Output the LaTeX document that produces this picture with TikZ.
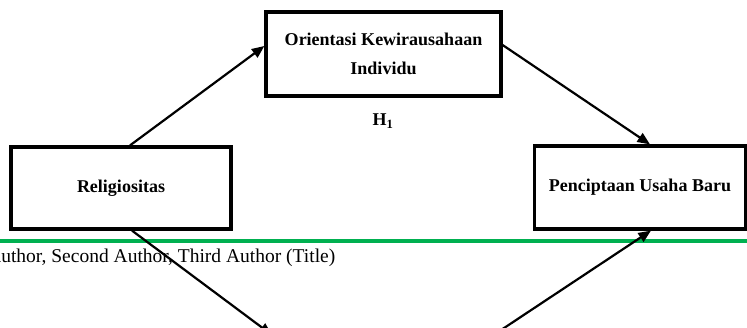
\documentclass[tikz,border=0pt]{standalone}
\usepackage{fontspec}
\setmainfont{Liberation Serif}
\usetikzlibrary{arrows.meta}

\begin{document}
\begin{tikzpicture}[
  x=1pt, y=-1pt,
  box/.style={draw, line width=3.2pt, align=center, font=\fontsize{18}{29}\selectfont\bfseries},
  pointer/.style={draw, -{Stealth[length=4.4mm, width=3.6mm, inset=0pt]}, line width=2.2pt},
  rule/.style={draw, line width=3.5pt, color=headgreen}
]
\definecolor{headgreen}{RGB}{0,176,80}
\useasboundingbox (0,0) rectangle (747,328);
\clip (0,0) rectangle (747,328);

% Page header
\draw[rule] (0,241) -- (747,241);
\node[anchor=base west, inner sep=0pt, font=\fontsize{19.5}{21}\selectfont] (header) at (-13,263) {Author, Second Author, Third Author (Title)};

% Nodes
\node[box, minimum width=235pt, minimum height=84pt] (orient) at (383.5,54) {Orientasi Kewirausahaan\\Individu};
\node[box, minimum width=220pt, minimum height=82pt] (religi) at (121,188) {Religiositas};
\node[box, minimum width=211pt, minimum height=83pt] (cipta) at (640,187.5) {Penciptaan Usaha Baru};
\node[font=\fontsize{18}{20}\selectfont\bfseries] (hyp) at (383,121) {H\textsubscript{1}};
\coordinate (below1) at (272,335);
\coordinate (below2) at (486,340);

% Arrows
\draw[pointer] ([xshift=9pt]religi.north) -- ([yshift=8pt]orient.west);
\draw[pointer] ([yshift=9pt]orient.east) -- ([xshift=10pt]cipta.north);
\draw[pointer] ([xshift=11pt]religi.south) -- (below1);
\draw[pointer] (below2) -- ([xshift=11pt]cipta.south);

\end{tikzpicture}
\end{document}
